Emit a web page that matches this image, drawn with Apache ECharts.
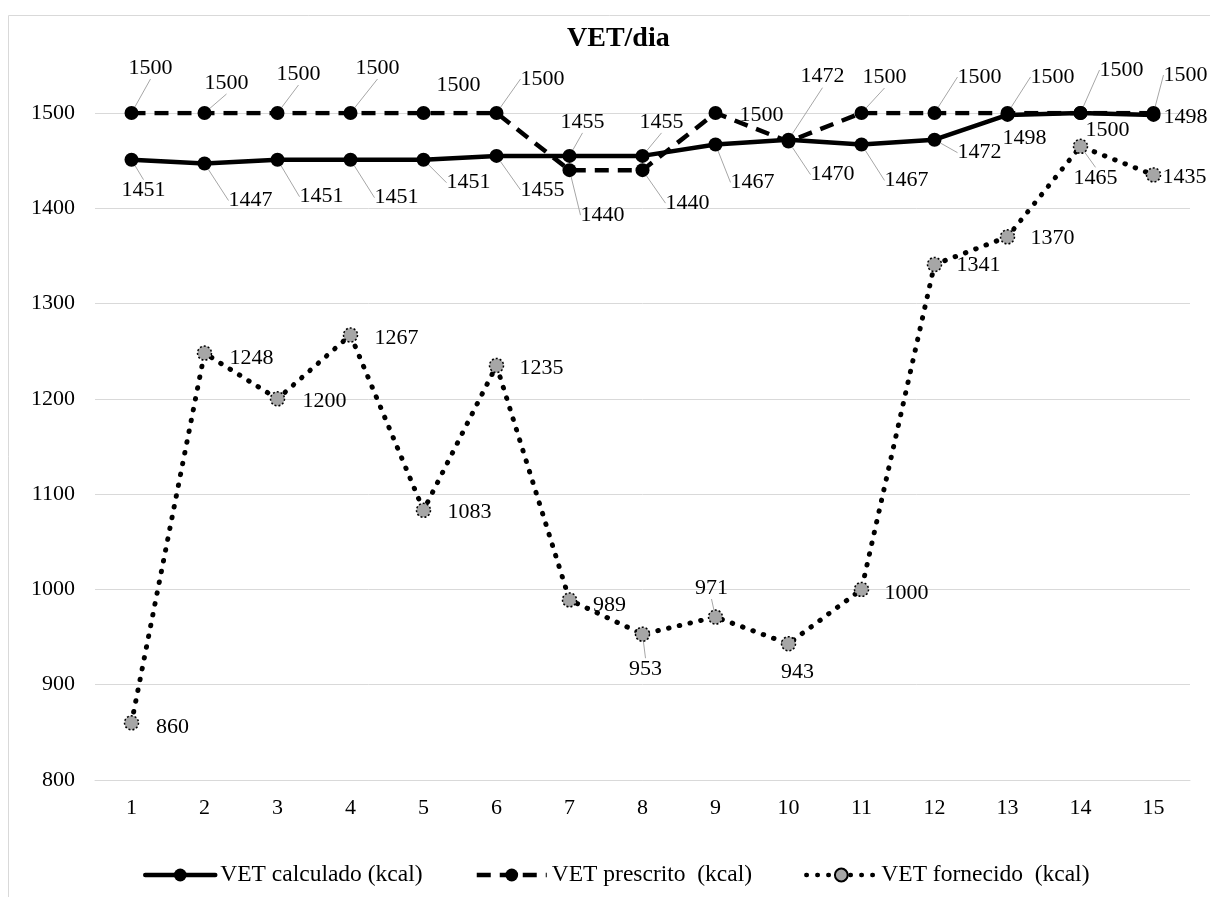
<!DOCTYPE html>
<html>
<head>
<meta charset="utf-8">
<script src="https://cdn.jsdelivr.net/npm/echarts@6/dist/echarts.min.js"></script>
<style>
  html, body { margin: 0; padding: 0; background: #fff; }
  #vetChart { width: 1210px; height: 897px; }
</style>
</head>
<body>
<div id="vetChart"></div>
<script>
const categories = ['1', '2', '3', '4', '5', '6', '7', '8', '9', '10', '11', '12', '13', '14', '15'];
const vetCalculado = [1451, 1447, 1451, 1451, 1451, 1455, 1455, 1455, 1467, 1472, 1467, 1472, 1498, 1500, 1498];
const vetPrescrito = [1500, 1500, 1500, 1500, 1500, 1500, 1440, 1440, 1500, 1470, 1500, 1500, 1500, 1500, 1500];
const vetFornecido = [860, 1248, 1200, 1267, 1083, 1235, 989, 953, 971, 943, 1000, 1341, 1370, 1465, 1435];
const seriesNames = ['VET calculado (kcal)', 'VET prescrito  (kcal)', 'VET fornecido  (kcal)'];
const yMin = 800, yMax = 1500, yStep = 100;

// where each data label sits relative to its point (moved by hand like in the original)
const calcShift = [[12, 31], [46, 37], [44, 37], [46, 38], [45, 23], [46, 34], [13, -34], [19, -34], [37, 38], [34, -63], [45, 36], [45, 13], [17, 23], [27, 17], [32, 2]];
const calcLeader = [1, 1, 1, 1, 1, 1, 1, 1, 1, 1, 1, 1, 0, 0, 0];
const prescShift = [[19, -45], [22, -30], [21, -39], [27, -45], [35, -28], [46, -34], [33, 45], [45, 33], [46, 2], [44, 33], [23, -36], [45, -36], [45, -36], [41, -43], [32, -38]];
const prescLeader = [1, 1, 1, 1, 0, 1, 1, 1, 0, 1, 1, 1, 1, 1, 1];
const fornShift = [[41, 4], [47, 5], [47, 2], [46, 3], [46, 2], [45, 3], [40, 5], [3, 35], [-4, -29], [9, 28], [45, 4], [44, 1], [45, 1], [15, 32], [31, 2]];
const fornLeader = [0, 0, 0, 0, 0, 0, 0, 1, 1, 0, 0, 0, 0, 1, 0];

const serif = '"Liberation Serif", "Times New Roman", serif';

function makeData(values, leader) {
    return values.map((v, i) => ({ value: v, labelLine: { show: !!leader[i] } }));
}

function labelCfg() {
    return {
        show: true,
        position: 'inside',
        color: '#000',
        fontSize: 22,
        fontFamily: serif
    };
}

const leaderLine = { show: true, lineStyle: { color: '#a6a6a6', width: 1 } };

const myChart = echarts.init(document.getElementById('vetChart'));
myChart.setOption({
    animation: false,
    title: {
        text: 'VET/dia',
        left: 562,
        top: 20,
        textStyle: { fontFamily: serif, fontSize: 28, fontWeight: 'bold', color: '#000' }
    },
    legend: {
        data: seriesNames,
        left: 138,
        top: 858,
        itemWidth: 70,
        itemHeight: 16,
        itemGap: 52,
        lineStyle: { width: 4.5 },
        textStyle: { fontFamily: serif, fontSize: 23.5, color: '#000' }
    },
    grid: {
        left: 95,
        right: 20,
        top: 113,
        bottom: 117
    },
    xAxis: {
        type: 'category',
        data: categories,
        boundaryGap: true,
        axisLine: { lineStyle: { color: '#d9d9d9', width: 1 } },
        axisTick: { show: false },
        axisLabel: { margin: 17, color: '#000', fontSize: 22, fontFamily: serif }
    },
    yAxis: {
        type: 'value',
        min: yMin,
        max: yMax,
        interval: yStep,
        axisLine: { show: false },
        axisTick: { show: false },
        axisLabel: { margin: 20, color: '#000', fontSize: 22, fontFamily: serif, formatter: v => String(v) },
        splitLine: { lineStyle: { color: '#d9d9d9', width: 1 } }
    },
    graphic: [
        { type: 'line', shape: { x1: 8.5, y1: 15.5, x2: 1210, y2: 15.5 }, style: { stroke: '#d9d9d9', lineWidth: 1 } },
        { type: 'line', shape: { x1: 8.5, y1: 15.5, x2: 8.5, y2: 897 }, style: { stroke: '#d9d9d9', lineWidth: 1 } }
    ],
    series: [
        {
            name: seriesNames[0],
            type: 'line',
            data: makeData(vetCalculado, calcLeader),
            symbol: 'circle',
            symbolSize: 14,
            itemStyle: { color: '#000' },
            lineStyle: { color: '#000', width: 4.5, cap: 'round' },
            label: labelCfg(),
            labelLine: leaderLine,
            labelLayout: p => ({ dx: calcShift[p.dataIndex][0], dy: calcShift[p.dataIndex][1] }),
            emphasis: { disabled: true }
        },
        {
            name: seriesNames[1],
            type: 'line',
            data: makeData(vetPrescrito, prescLeader),
            symbol: 'circle',
            symbolSize: 14,
            itemStyle: { color: '#000' },
            lineStyle: { color: '#000', width: 4.5, type: [14, 9] },
            label: labelCfg(),
            labelLine: leaderLine,
            labelLayout: p => ({ dx: prescShift[p.dataIndex][0], dy: prescShift[p.dataIndex][1] }),
            emphasis: { disabled: true }
        },
        {
            name: seriesNames[2],
            type: 'line',
            data: makeData(vetFornecido, fornLeader),
            symbol: 'circle',
            symbolSize: 14,
            itemStyle: { color: '#a6a6a6', borderColor: '#000', borderWidth: 1.5, borderType: [2, 2] },
            lineStyle: { color: '#000', width: 5, type: [0.5, 10.5], cap: 'round' },
            label: labelCfg(),
            labelLine: leaderLine,
            labelLayout: p => ({ dx: fornShift[p.dataIndex][0], dy: fornShift[p.dataIndex][1] }),
            emphasis: { disabled: true }
        }
    ]
});
</script>
</body>
</html>
